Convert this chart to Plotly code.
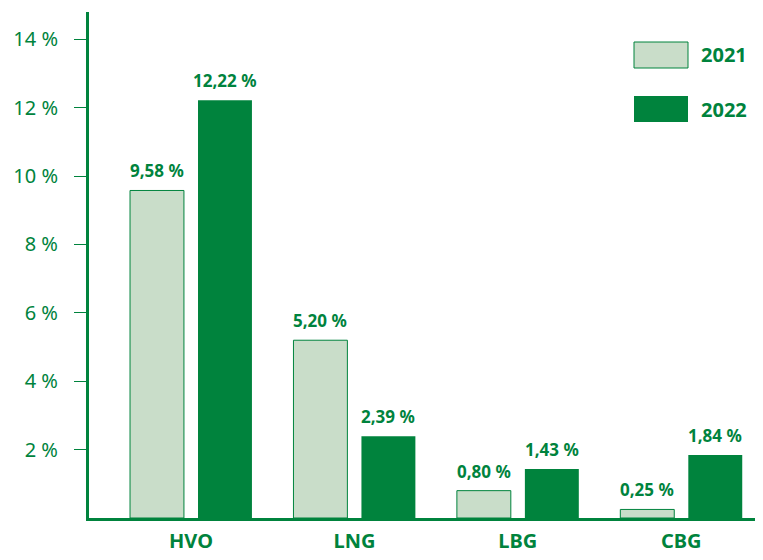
import plotly.graph_objects as go

categories = ["HVO", "LNG", "LBG", "CBG"]
values_2021 = [9.58, 5.20, 0.80, 0.25]
values_2022 = [12.22, 2.39, 1.43, 1.84]
y_ticks = [2, 4, 6, 8, 10, 12, 14]

GREEN = "#00833d"
LIGHT = "#c9ddc9"
FONT = "Noto Sans"
BAR_W = 0.33
OFF_21 = -0.373
OFF_22 = 0.043


def fmt(v):
    return f"{v:.2f}".replace(".", ",") + " %"


fig = go.Figure()

fig.add_trace(go.Bar(
    x=categories, y=values_2021, name="2021",
    width=BAR_W, offset=OFF_21,
    marker=dict(color=LIGHT, line=dict(color=GREEN, width=1)),
))
fig.add_trace(go.Bar(
    x=categories, y=values_2022, name="2022",
    width=BAR_W, offset=OFF_22,
    marker=dict(color=GREEN, line=dict(width=0)),
))

# value labels above the bars
for i, (a, b) in enumerate(zip(values_2021, values_2022)):
    for val, off in [(a, OFF_21), (b, OFF_22)]:
        fig.add_annotation(x=i + off + BAR_W / 2, y=val, text=f"<b>{fmt(val)}</b>",
                           showarrow=False, yanchor="bottom", yshift=6,
                           font=dict(family=FONT, size=17, color=GREEN))

# legend drawn by hand (large swatches)
fig.add_shape(type="rect", xref="paper", yref="paper",
              x0=(634 - 89) / 674, x1=(688 - 89) / 674,
              y0=(518 - 68) / 506, y1=(518 - 42) / 506,
              fillcolor=LIGHT, line=dict(color=GREEN, width=1))
fig.add_shape(type="rect", xref="paper", yref="paper",
              x0=(634 - 89) / 674, x1=(688 - 89) / 674,
              y0=(518 - 122) / 506, y1=(518 - 96) / 506,
              fillcolor=GREEN, line=dict(width=0))
for label, yc in [("2021", 55), ("2022", 109)]:
    fig.add_annotation(xref="paper", yref="paper", x=(699 - 89) / 674,
                       y=(518 - yc) / 506, text=f"<b>{label}</b>", showarrow=False,
                       xanchor="left", yanchor="middle",
                       font=dict(family=FONT, size=20, color=GREEN))

fig.update_layout(
    width=755, height=552,
    margin=dict(l=81, r=0, t=4, b=42),
    paper_bgcolor="white", plot_bgcolor="white",
    showlegend=False,
    barmode="group",
)
fig.update_xaxes(
    range=[-0.624, 3.5],
    tickvals=categories, ticktext=[f"<b>{c}</b>" for c in categories],
    tickfont=dict(family=FONT, size=20, color=GREEN),
    showline=True, linecolor=GREEN, linewidth=3,
    ticks="", showgrid=False, ticklabelstandoff=3,
)
fig.update_yaxes(
    range=[0, 14.8],
    tickvals=y_ticks, ticktext=[f"{t} %" for t in y_ticks],
    tickfont=dict(family=FONT, size=20, color=GREEN),
    showline=True, linecolor=GREEN, linewidth=3,
    ticks="outside", ticklen=12, tickcolor=GREEN, tickwidth=1,
    ticklabelstandoff=12,
    showgrid=False, zeroline=False,
)

fig.write_html("out.html")
